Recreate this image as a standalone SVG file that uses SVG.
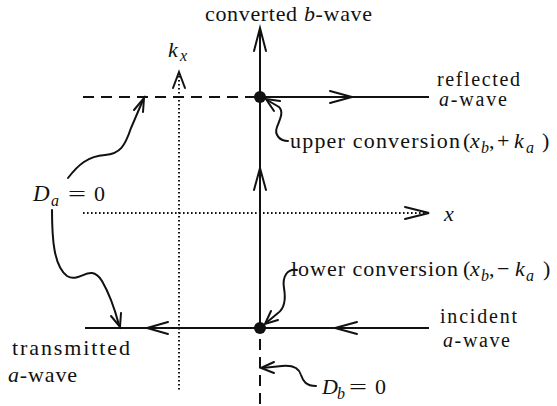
<svg xmlns="http://www.w3.org/2000/svg" width="557" height="406" viewBox="0 0 557 406">
<style>
.ln{stroke:#111;stroke-width:2;fill:none}
.dash{stroke-dasharray:11 7}
.dot{stroke-dasharray:1.6 2.4;stroke-width:2}
.ah{stroke:#111;stroke-width:2;fill:none;stroke-linejoin:miter;stroke-linecap:round}
.sq{stroke:#111;stroke-width:2;fill:none;stroke-linecap:round}
text{font-family:'Liberation Serif','DejaVu Serif','Noto Serif',serif;font-size:22px;fill:#111}
.i{font-style:italic}
.s{font-size:16px}
.m{font-size:20px}
</style>
<rect width="557" height="406" fill="#fff"/>
<g id="connectors">
  <path class="ln" d="M260 30 V328"/>
  <path class="ah" d="M254 51 L260 28 L266 51"/>
  <path class="ah" d="M254 190 L260 168 L266 190"/>
  <path class="ln dash" d="M83 97 H256"/>
  <path class="ln" d="M260 97 H429"/>
  <path class="ah" d="M330 91 L352 97 L330 103"/>
  <path class="ln" d="M85 328 H429"/>
  <path class="ah" d="M168 322 L147 328 L168 334"/>
  <path class="ah" d="M357 322 L335 328 L357 334"/>
  <path class="ln dash" d="M260 339 V406"/>
  <path class="ln dot" d="M179 76 V392"/>
  <path class="ah" d="M173 88 L179 72 L185 88"/>
  <path class="ln dot" d="M83 213 H426"/>
  <path class="ah" d="M405 207 L429 213 L405 219"/>
  <path class="sq" d="M288 141 C280 141 274 135 277 127 C280 119 284 112 279 107 L267 100"/>
  <path class="ah" d="M274 111 L266 99 L280 101"/>
  <path class="sq" d="M297 270 C288 268 282 276 284 288 C286 300 285 308 278 313 L266 323"/>
  <path class="ah" d="M278 320 L265 324 L271 311"/>
  <path class="sq" d="M316 386 C306 386 303 381 301 375 C299 368 293 365 282 366 L262 368"/>
  <path class="ah" d="M274 362 L261 368 L274 373"/>
  <path class="sq" d="M68 178 C78 165 88 156 105 155 C120 154 125 146 131 128 L143 100"/>
  <path class="ah" d="M134 110 L144 98 L143 112"/>
  <path class="sq" d="M52 210 C52 240 54 266 67 276 C80 284 90 262 102 281 C109 293 115 310 119 325"/>
  <path class="ah" d="M121 313 L120 327 L111 316"/>
</g>
<g id="upper-conversion-point"><circle cx="260" cy="97" r="6" fill="#111"/></g>
<g id="lower-conversion-point"><circle cx="260" cy="328" r="6" fill="#111"/></g>
<g id="label-converted-b-wave">
  <text x="205" y="21" textLength="167" lengthAdjust="spacing">converted <tspan class="i">b</tspan>-wave</text>
</g>
<g id="label-kx">
  <text class="i" x="168" y="57">k</text><text class="i s" x="180" y="61">x</text>
</g>
<g id="label-reflected">
  <text class="m" x="437" y="86" textLength="83" lengthAdjust="spacing">reflected</text>
  <text class="m" x="439" y="106" textLength="68" lengthAdjust="spacing"><tspan class="i">a</tspan>-wave</text>
</g>
<g id="label-upper-conversion">
  <text x="290" y="148" textLength="170" lengthAdjust="spacing">upper conversion</text>
  <text x="463" y="148">(</text><text class="i" x="470" y="148">x</text><text class="i s" x="481" y="153">b</text>
  <text x="489" y="148">,</text><text x="497" y="148">+</text><text class="i" x="514" y="148">k</text>
  <text class="i s" x="526" y="153">a</text><text x="542" y="148">)</text>
</g>
<g id="label-Da">
  <text class="i" x="33" y="201" style="font-size:23px">D</text><text class="i s" x="51" y="206">a</text>
  <text x="68" y="201" transform="translate(68 0) scale(1.45 1) translate(-68 0)">=</text><text x="94" y="201">0</text>
</g>
<g id="label-x-axis"><text class="i" x="444" y="221">x</text></g>
<g id="label-lower-conversion">
  <text x="291" y="276" textLength="167" lengthAdjust="spacing">lower conversion</text>
  <text x="463" y="276">(</text><text class="i" x="470" y="276">x</text><text class="i s" x="481" y="281">b</text>
  <text x="489" y="276">,</text><text x="497" y="276">−</text><text class="i" x="515" y="276">k</text>
  <text class="i s" x="526" y="281">a</text><text x="543" y="276">)</text>
</g>
<g id="label-incident">
  <text class="m" x="440" y="323" textLength="77" lengthAdjust="spacing">incident</text>
  <text class="m" x="443" y="347" textLength="67" lengthAdjust="spacing"><tspan class="i">a</tspan>-wave</text>
</g>
<g id="label-transmitted">
  <text x="12" y="355" textLength="118" lengthAdjust="spacing">transmitted</text>
  <text x="8" y="382" textLength="69" lengthAdjust="spacing"><tspan class="i">a</tspan>-wave</text>
</g>
<g id="label-Db">
  <text class="i" x="322" y="394">D</text><text class="i s" x="337" y="399">b</text>
  <text x="349" y="394" transform="translate(349 0) scale(1.45 1) translate(-349 0)">=</text><text x="375" y="394">0</text>
</g>
</svg>
